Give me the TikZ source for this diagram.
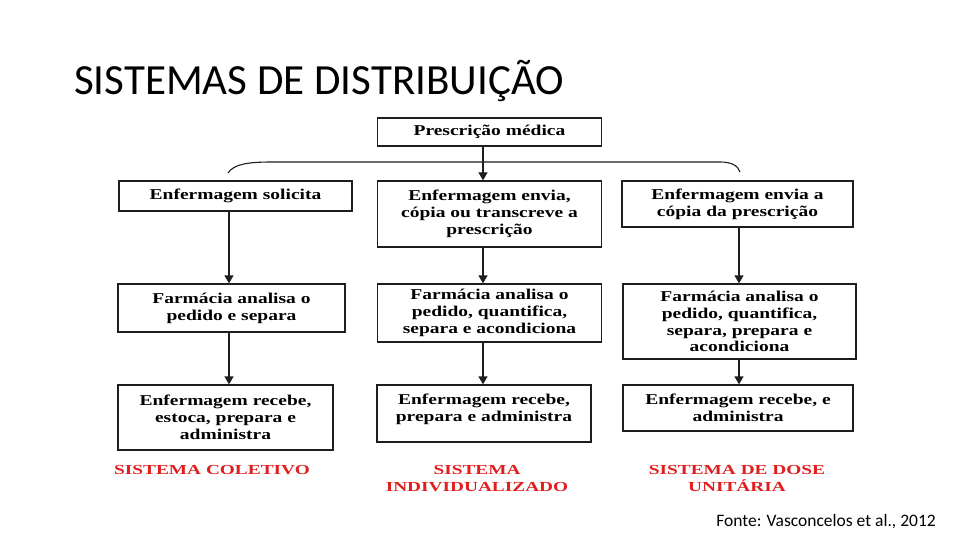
\documentclass[tikz,border=0pt]{standalone}
\usepackage{fontspec}
\setmainfont{Liberation Serif}
\newfontfamily\titlefont{Carlito}
\newfontfamily\boxfont[FakeStretch=1.3]{Liberation Serif Bold}
\newfontfamily\labfont[FakeStretch=1.4]{Liberation Serif Bold}
\usetikzlibrary{arrows.meta}
\definecolor{labred}{RGB}{225,30,30}
\definecolor{linegray}{RGB}{30,30,30}
\begin{document}
\begin{tikzpicture}[x=1pt,y=-1pt,
  box/.style={draw=linegray, line width=1.3pt, align=center, inner sep=0pt,
    font=\boxfont\fontsize{15}{16.8}\selectfont},
  arr/.style={draw=linegray, line width=1.3pt, -{Triangle[width=9pt,length=8pt]}},
  lab/.style={text=labred, align=center, inner sep=0pt,
    font=\labfont\fontsize{13.8}{17}\selectfont}]
\useasboundingbox (0,0) rectangle (960,540);
\fill[white] (0,0) rectangle (960,540);

\node[anchor=base west, inner sep=0pt, font=\titlefont\fontsize{43}{50}\selectfont] (title) at (74,95) {SISTEMAS DE DISTRIBUIÇÃO};

\node[box, minimum width=224pt, minimum height=28pt] (P) at (489.5,132) {Prescrição médica};

\node[box, minimum width=233pt, minimum height=30pt] (A) at (235.5,196) {Enfermagem solicita};
\node[box, minimum width=224pt, minimum height=66pt] (B) at (489.5,214) {Enfermagem envia,\\cópia ou transcreve a\\prescrição};
\node[box, minimum width=231pt, minimum height=46pt] (C) at (737.5,204) {Enfermagem envia a\\cópia da prescrição};

\node[box, minimum width=227pt, minimum height=48pt] (D) at (231.5,308) {Farmácia analisa o\\pedido e separa};
\node[box, minimum width=224pt, minimum height=58pt] (E) at (489.5,313) {Farmácia analisa o\\pedido, quantifica,\\separa e acondiciona};
\node[box, minimum width=233pt, minimum height=75pt] (F) at (739.5,321.5) {Farmácia analisa o\\pedido, quantifica,\\separa, prepara e\\acondiciona};

\node[box, minimum width=215pt, minimum height=65pt] (G) at (225.5,417.5) {Enfermagem recebe,\\estoca, prepara e\\administra};
\node[box, minimum width=214pt, minimum height=57pt] (H) at (484,413.5) {Enfermagem recebe,\\prepara e administra\\[-6pt]};
\node[box, minimum width=230pt, minimum height=46pt] (I) at (738,408) {Enfermagem recebe, e\\administra};

\coordinate (xa) at (229,0);
\coordinate (xb) at (483,0);
\coordinate (xc) at (739,0);

\draw[arr] (P.south -| xb) -- (B.north -| xb);
\draw[arr] (A.south -| xa) -- (D.north -| xa);
\draw[arr] (D.south -| xa) -- (G.north -| xa);
\draw[arr] (B.south -| xb) -- (E.north -| xb);
\draw[arr] (E.south -| xb) -- (H.north -| xb);
\draw[arr] (C.south -| xc) -- (F.north -| xc);
\draw[arr] (F.south -| xc) -- (I.north -| xc);

\coordinate (brL) at (228,173);
\coordinate (brR) at (740,172);
\draw[linegray, line width=1.1pt] (brL) .. controls (234,164) and (248,162) .. (272,162) -- (720,162) .. controls (732,162) and (738,166) .. (brR);

\node[lab] (L1) at (212,470) {SISTEMA COLETIVO};
\node[lab] (L2) at (477,478.5) {SISTEMA\\INDIVIDUALIZADO};
\node[lab] (L3) at (737,478.5) {SISTEMA DE DOSE\\UNITÁRIA};

\node[anchor=base east, inner sep=0pt, font=\titlefont\fontsize{17.5}{20}\selectfont] (src) at (936,526) {Fonte: Vasconcelos et al., 2012};
\end{tikzpicture}
\end{document}
